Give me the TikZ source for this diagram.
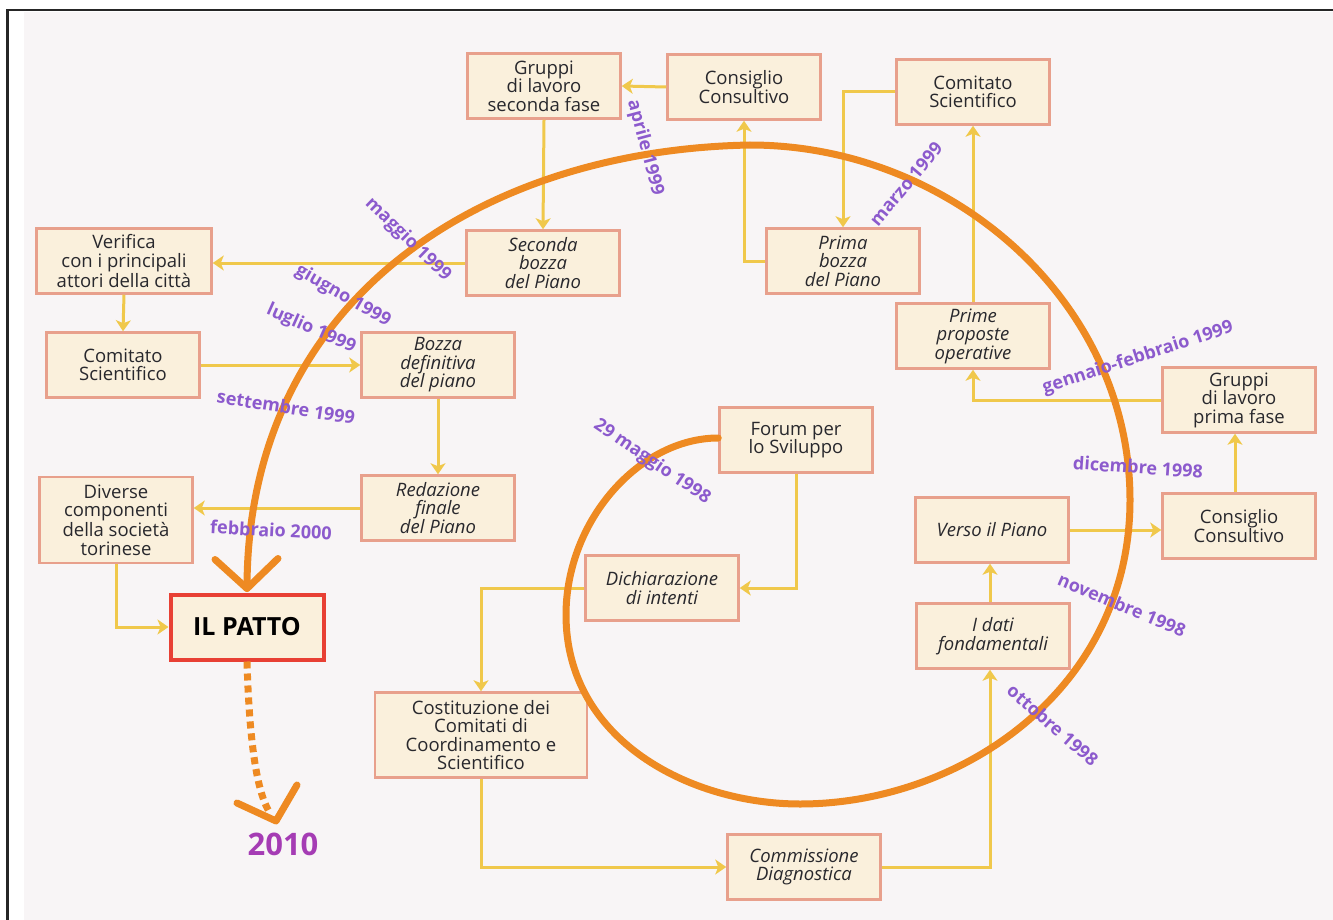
\documentclass[tikz,border=0pt]{standalone}
\usepackage{fontspec}
\setmainfont{Open Sans}
\usetikzlibrary{arrows.meta,calc}

\definecolor{spiralorange}{RGB}{238,138,34}
\definecolor{linkyellow}{RGB}{240,200,75}
\definecolor{boxfill}{RGB}{250,240,220}
\definecolor{boxline}{RGB}{232,160,140}
\definecolor{boxtext}{RGB}{40,40,45}
\definecolor{pattored}{RGB}{232,64,52}
\definecolor{datepurple}{RGB}{140,90,205}
\definecolor{yearpurple}{RGB}{165,60,180}
\definecolor{bgpaper}{RGB}{248,245,246}

\begin{document}
\begin{tikzpicture}[
x=1pt,
y=-1pt,
box/.style={draw=boxline, line width=2.5pt, fill=boxfill, text=boxtext, align=center,
	minimum width=153pt, minimum height=65pt, inner sep=2pt,
	font=\fontsize{18.5}{18.5}\selectfont},
itbox/.style={box, font=\fontsize{18.5}{18.5}\selectfont\itshape},
link/.style={draw=linkyellow, line width=3pt, -{Stealth[length=11pt,width=15pt,inset=3pt]}},
date/.style={text=datepurple, font=\fontsize{18}{18}\selectfont\bfseries, inner sep=0pt},
spiral/.style={draw=spiralorange, line width=7pt, line cap=round, line join=round},
]
	
	\useasboundingbox (0,0) rectangle (1333,920);
	
	%%%%%%%%%%%%%%%%%%%%%%%%%%%%
	%Rahmen und Hintergrund
	%%%%%%%%%%%%%%%%%%%%%%%%%%%%
	
	\fill [white] (0,0) rectangle (1333,920);
	\fill [bgpaper] (24,12) rectangle (1333,920);
	\fill [black!85] (6,9) rectangle (1333,11);
	\fill [black!85] (6,9) rectangle (9,920);
	
	%%%%%%%%%%%%%%%%%%%%%%%%%%%%
	%Kaesten
	%%%%%%%%%%%%%%%%%%%%%%%%%%%%
	
	\node[box] (gr2) at (544,86) {Gruppi\\di lavoro\\seconda fase};
	\node[box] (cc1) at (744,87) {Consiglio\\Consultivo};
	\node[box] (cs2) at (973,92) {Comitato\\Scientifico};
	\node[box, minimum width=175pt] (ver) at (124,261) {Verifica\\con i principali\\attori della città};
	\node[itbox] (sb) at (543,263) {Seconda\\bozza\\del Piano};
	\node[itbox] (pb) at (843,261) {Prima\\bozza\\del Piano};
	\node[itbox] (pp) at (973,336) {Prime\\proposte\\operative};
	\node[box] (cs1) at (123,365) {Comitato\\Scientifico};
	\node[itbox] (bd) at (438,365) {Bozza\\definitiva\\del piano};
	\node[box] (gr1) at (1239,400) {Gruppi\\di lavoro\\prima fase};
	\node[box] (forum) at (796,440) {Forum per\\lo Sviluppo};
	\node[box, minimum height=86pt] (dc) at (116,520) {Diverse\\componenti\\della società\\torinese};
	\node[itbox] (rf) at (438,508) {Redazione\\finale\\del Piano};
	\node[itbox] (vp) at (992,530) {Verso il Piano};
	\node[box] (cc2) at (1239,526) {Consiglio\\Consultivo};
	\node[itbox] (dich) at (662,588) {Dichiarazione\\di intenti};
	\node[box, draw=pattored, line width=4pt, text=black,
		font=\fontsize{25}{25}\selectfont\bfseries] (patto) at (247,627) {IL PATTO};
	\node[itbox] (dati) at (993,636) {I dati\\fondamentali};
	\node[box, minimum width=212pt, minimum height=85pt] (cost) at (481,735)
		{Costituzione dei\\Comitati di\\Coordinamento e\\Scientifico};
	\node[itbox] (comm) at (804,867) {Commissione\\Diagnostica};
	
	%%%%%%%%%%%%%%%%%%%%%%%%%%%%
	%Verbindungen
	%%%%%%%%%%%%%%%%%%%%%%%%%%%%
	
	\draw[link] (cc1.west) -- (gr2.east);
	\draw[link] (gr2.south) -- (sb.north);
	\draw[link] (sb.west) -- (sb.west -| ver.east);
	\draw[link] (ver.south) -- (cs1.north);
	\draw[link] (cs1.east) -- (cs1.east -| bd.west);
	\draw[link] (bd.south) -- (rf.north);
	\draw[link] (rf.west) -- (rf.west -| dc.east);
	\draw[link] (dc.south) |- (patto.west);
	\draw[link] (pb.west) -| (cc1.south);
	\draw[link] (cs2.west) -| (pb.north);
	\draw[link] (pp.north) -- (cs2.south);
	\draw[link] (gr1.west) -| (pp.south);
	\draw[link] ([xshift=-4pt]cc2.north) -- ([xshift=-4pt]cc2.north |- gr1.south);
	\draw[link] (vp.east) -- (vp.east -| cc2.west);
	\draw[link] ([xshift=-3pt]dati.north) -- ([xshift=-3pt]dati.north |- vp.south);
	\draw[link] (comm.east) -| ([xshift=-3pt]dati.south);
	\draw[link] (cost.south) |- (comm.west);
	\draw[link] (dich.west) -| (cost.north);
	\draw[link] (forum.south) |- (dich.east);
	
	%%%%%%%%%%%%%%%%%%%%%%%%%%%%
	%Spirale
	%%%%%%%%%%%%%%%%%%%%%%%%%%%%
	
	\coordinate (tip) at ([yshift=4pt]patto.north);
	\draw[spiral] ([yshift=2pt]forum.west)
		.. controls (640,438) and (566,520) .. (566,615)
		.. controls (566,740) and (690,804) .. (800,804)
		.. controls (960,804) and (1130,690) .. (1130,500)
		.. controls (1130,300) and (950,145) .. (750,145)
		.. controls (480,150) and (247,300) .. (tip);
	\draw[spiral] ($(tip)+(-32,-29)$) -- (tip) -- ($(tip)+(31,-30)$);
	
	%Ausblick 2010
	\coordinate (tip2010) at (276,821);
	\draw[spiral, line cap=butt, dash pattern=on 7pt off 5pt]
		(patto.south) .. controls (249,730) and (255,790) .. ($(tip2010)+(-6,-8)$);
	\draw[spiral] ($(tip2010)+(-39,-18)$) -- (tip2010) -- ($(tip2010)+(21,-36)$);
	\node[text=yearpurple, font=\fontsize{31}{31}\selectfont\bfseries] (year) at (283,844) {2010};
	
	%%%%%%%%%%%%%%%%%%%%%%%%%%%%
	%Daten
	%%%%%%%%%%%%%%%%%%%%%%%%%%%%
	
	\node[date, rotate=-75] (apr) at (645,148) {aprile 1999};
	\node[date, rotate=-44] (mag) at (408,240) {maggio 1999};
	\node[date, rotate=-30] (giu) at (343,296) {giugno 1999};
	\node[date, rotate=-24] (lug) at (311,329) {luglio 1999};
	\node[date, rotate=-9] (set) at (286,407) {settembre 1999};
	\node[date, rotate=-3] (feb) at (271,530) {febbraio 2000};
	\node[date, rotate=50] (mar) at (906,184) {marzo 1999};
	\node[date, rotate=18] (genfeb) at (1138,358) {gennaio-febbraio 1999};
	\node[date, rotate=-4] (dic) at (1138,467) {dicembre 1998};
	\node[date, rotate=-23] (nov) at (1122,605) {novembre 1998};
	\node[date, rotate=-41] (ott) at (1053,725) {ottobre 1998};
	\node[date, rotate=-34] (forumdate) at (652,462) {29 maggio 1998};
   
\end{tikzpicture}
\end{document}
